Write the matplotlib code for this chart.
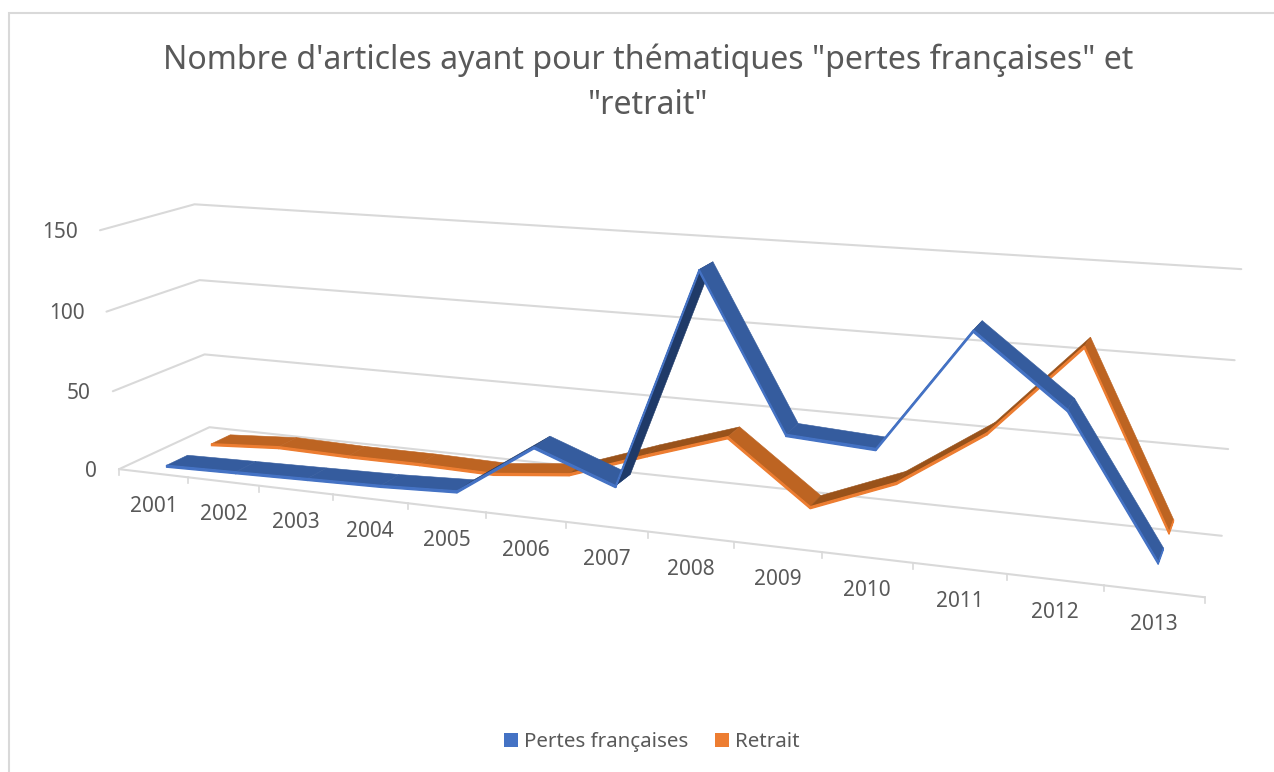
import numpy as np
import matplotlib
matplotlib.use("Agg")
import matplotlib.pyplot as plt
from matplotlib.patches import Polygon, Rectangle

plt.rcParams['font.family'] = ['Noto Sans', 'DejaVu Sans']

# Données
annees = [2001, 2002, 2003, 2004, 2005, 2006, 2007, 2008, 2009, 2010, 2011, 2012, 2013]
pertes = [1, 2, 3, 4, 6, 38, 20, 148, 60, 57, 126, 88, 11]
retrait = [1, 4, 3, 3, 2, 7, 24, 40, 3, 23, 57, 110, 11]
graduations = [0, 50, 100, 150]

titre = "Nombre d'articles ayant pour thématiques \"pertes françaises\" et\n\"retrait\""
GRIS = "#D9D9D9"
TEXTE = "#595959"

# --------------------------------------------------------
# Perspective : repères lus sur le cadre du graphique
# (position x en catégories, valeur, profondeur) -> pixels
# --------------------------------------------------------
reperes = [
    (0, 0, 0, 120, 468), (0, 50, 0, 113, 390), (0, 100, 0, 105, 312), (0, 150, 0, 100, 230),
    (0, 0, 1, 208, 427), (0, 50, 1, 205, 354), (0, 100, 1, 200, 281), (0, 150, 1, 195, 205),
    (13, 0, 1, 1222, 535), (13, 50, 1, 1228, 450), (13, 100, 1, 1235, 360), (13, 150, 1, 1241, 268),
    (13, 0, 0, 1204, 597), (3, 0, 0, 333, 495), (6, 0, 0, 566, 523), (9, 0, 0, 822, 553),
]


def ajuste_projection(pts):
    A, b = [], []
    for x, z, d, u, v in pts:
        x, z, d = x / 13, z / 150, d
        A.append([x, z, d, 1, 0, 0, 0, 0, -u * x, -u * z, -u * d])
        b.append(u)
        A.append([0, 0, 0, 0, x, z, d, 1, -v * x, -v * z, -v * d])
        b.append(v)
    return np.linalg.lstsq(np.array(A, float), np.array(b, float), rcond=None)[0]


P = ajuste_projection(reperes)


def proj(x, z, d):
    x, z = x / 13, z / 150
    w = P[8] * x + P[9] * z + P[10] * d + 1
    return ((P[0] * x + P[1] * z + P[2] * d + P[3]) / w,
            (P[4] * x + P[5] * z + P[6] * d + P[7]) / w)


fig = plt.figure(figsize=(12.74, 7.72), dpi=100)
ax = fig.add_axes([0, 0, 1, 1])
ax.set_xlim(0, 1274)
ax.set_ylim(772, 0)
ax.axis("off")

# Cadre extérieur (seulement haut et gauche sur l'image)
ax.plot([9, 9, 1274], [772, 13, 13], color=GRIS, lw=1.5, solid_joinstyle="miter")

# Grille
for g in graduations:
    pts = [proj(0, g, 0), proj(0, g, 1), proj(13, g, 1)]
    ax.plot(*zip(*pts), color=GRIS, lw=1.5, solid_capstyle="round", zorder=1)
    u, v = proj(0, g, 0)
    ax.text(u - 22, v + 2, str(g), ha="right", va="center", fontsize=15, color=TEXTE)

# Axe des catégories
ax.plot(*zip(proj(0, 0, 0), proj(13, 0, 0)), color=GRIS, lw=1.5, zorder=1)
for i in range(14):
    u, v = proj(i, 0, 0)
    ax.plot([u, u], [v, v + 6], color=GRIS, lw=1.2, zorder=1)
for i, a in enumerate(annees):
    u, v = proj(i + 0.5, 0, 0)
    ax.text(u, v + 33, str(a), ha="center", va="center", fontsize=15, color=TEXTE)


# --------------------------------------------------------
# Rubans 3D
# --------------------------------------------------------
def ruban(valeurs, d0, d1, c_vif, c_plat, c_monte, z, h=1.2):
    for i in range(len(valeurs) - 1):
        a, b = valeurs[i], valeurs[i + 1]
        dessus = [proj(i + 0.5, a, d0), proj(i + 1.5, b, d0),
                  proj(i + 1.5, b, d1), proj(i + 0.5, a, d1)]
        c = c_monte if b > a + 6 else c_plat
        ax.add_patch(Polygon(dessus, closed=True, fc=c, ec=c, lw=0.4, zorder=z))
    for i in range(len(valeurs) - 1):
        a, b = valeurs[i], valeurs[i + 1]
        face = [proj(i + 0.5, a, d0), proj(i + 1.5, b, d0),
                proj(i + 1.5, b - h, d0), proj(i + 0.5, a - h, d0)]
        ax.add_patch(Polygon(face, closed=True, fc=c_vif, ec=c_vif, lw=1.0, zorder=z + 0.1))
    # bout du ruban
    n = len(valeurs) - 1
    bout = [proj(n + 0.5, valeurs[n], d0), proj(n + 0.5, valeurs[n], d1),
            proj(n + 0.5, valeurs[n] - h, d1), proj(n + 0.5, valeurs[n] - h, d0)]
    ax.add_patch(Polygon(bout, closed=True, fc=c_vif, ec=c_vif, lw=0.8, zorder=z + 0.1))


ruban(retrait, 0.64, 0.86, "#ED7D31", "#BD6422", "#99521A", 3)
ruban(pertes, 0.14, 0.37, "#4472C4", "#355C9E", "#1F3A68", 4)

# Titre
ax.text(648, 60, titre.split("\n")[0], ha="center", va="center", fontsize=23.1, color=TEXTE)
ax.text(648, 105, titre.split("\n")[1], ha="center", va="center", fontsize=23.1, color=TEXTE)

# Légende
ax.add_patch(Rectangle((504, 733), 14, 14, fc="#4472C4", ec="none"))
ax.text(524, 742, "Pertes françaises", ha="left", va="center", fontsize=14.8, color=TEXTE)
ax.add_patch(Rectangle((715, 733), 14, 14, fc="#ED7D31", ec="none"))
ax.text(735, 742, "Retrait", ha="left", va="center", fontsize=14.8, color=TEXTE)

fig.savefig("out.png", dpi=100)
